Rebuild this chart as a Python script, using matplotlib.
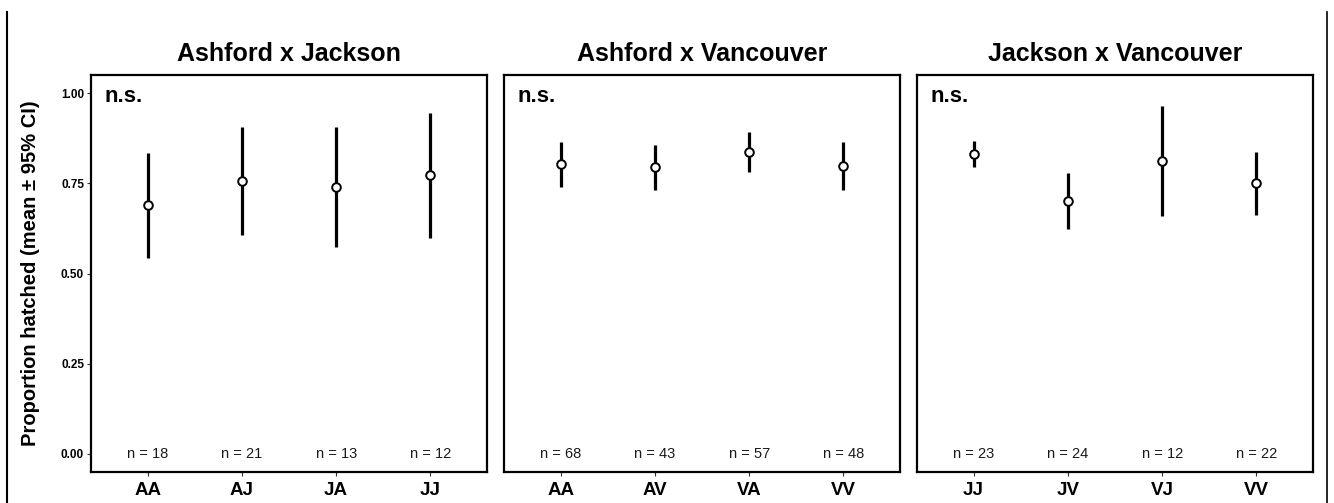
import matplotlib
matplotlib.use("Agg")
import matplotlib.pyplot as plt
from matplotlib.lines import Line2D

plt.rcParams['font.family'] = ['Liberation Sans', 'DejaVu Sans']

titles = ["Ashford x Jackson", "Ashford x Vancouver", "Jackson x Vancouver"]
groups = [["AA", "AJ", "JA", "JJ"],
          ["AA", "AV", "VA", "VV"],
          ["JJ", "JV", "VJ", "VV"]]
means = [[0.690, 0.756, 0.741, 0.772],
         [0.804, 0.795, 0.838, 0.798],
         [0.832, 0.701, 0.812, 0.750]]
lowers = [[0.544, 0.606, 0.574, 0.599],
          [0.741, 0.731, 0.782, 0.730],
          [0.796, 0.622, 0.659, 0.662]]
uppers = [[0.833, 0.905, 0.907, 0.944],
          [0.864, 0.857, 0.891, 0.864],
          [0.868, 0.778, 0.963, 0.838]]
ns = [[18, 21, 13, 12],
      [68, 43, 57, 48],
      [23, 24, 12, 22]]
yticks = [0.00, 0.25, 0.50, 0.75, 1.00]
ytick_labels = ["0.00", "0.25", "0.50", "0.75", "1.00"]

W, H = 1334, 503
fig = plt.figure(figsize=(W / 100, H / 100), dpi=100)

lefts = [91, 504, 917]
width = 396
ax_bottom = (H - 472) / H
ax_height = (472 - 75) / H

for i in range(3):
    ax = fig.add_axes([lefts[i] / W, ax_bottom, width / W, ax_height])
    x = list(range(1, len(groups[i]) + 1))
    for xi, m, lo, up in zip(x, means[i], lowers[i], uppers[i]):
        ax.plot([xi, xi], [lo, up], color='black', lw=2.3, solid_capstyle='butt', zorder=2)
    ax.plot(x, means[i], linestyle='none', marker='o', markersize=6.2,
            markerfacecolor='white', markeredgecolor='black', markeredgewidth=1.4, zorder=3)
    for xi, n in zip(x, ns[i]):
        ax.text(xi, 0.0, f"n = {n}", ha='center', va='center', fontsize=10.5, color='#1a1a1a')
    ax.text(0.54, 0.975, "n.s.", ha='left', va='baseline', fontsize=16, fontweight='bold')
    ax.set_xlim(0.4, len(groups[i]) + 0.6)
    ax.set_ylim(-0.05, 1.05)
    ax.set_xticks(x)
    ax.set_xticklabels(groups[i], fontsize=13.5, fontweight='bold')
    ax.set_yticks(yticks)
    if i == 0:
        ax.set_yticklabels(ytick_labels, fontsize=8.5, fontweight='bold')
        ax.set_ylabel("Proportion hatched (mean \u00b1 95% CI)", fontsize=14.5,
                      fontweight='bold', labelpad=15)
        ax.tick_params(axis='y', length=3, width=0.8, color='#333333', pad=2)
    else:
        ax.tick_params(axis='y', left=False, labelleft=False)
    ax.tick_params(axis='x', length=3, width=0.8, color='#333333', pad=4)
    for s in ax.spines.values():
        s.set_linewidth(1.6)
        s.set_color('black')
    ax.set_title(titles[i], fontsize=18, fontweight='bold', pad=10)

# outer frame lines at figure edges
fig.add_artist(Line2D([7 / W, 7 / W], [0, (H - 12) / H], color='black', lw=1.5,
                      transform=fig.transFigure))
fig.add_artist(Line2D([1327 / W, 1327 / W], [0, (H - 12) / H], color='black', lw=1.2,
                      transform=fig.transFigure))

fig.savefig("out.png", dpi=100, facecolor='white')
